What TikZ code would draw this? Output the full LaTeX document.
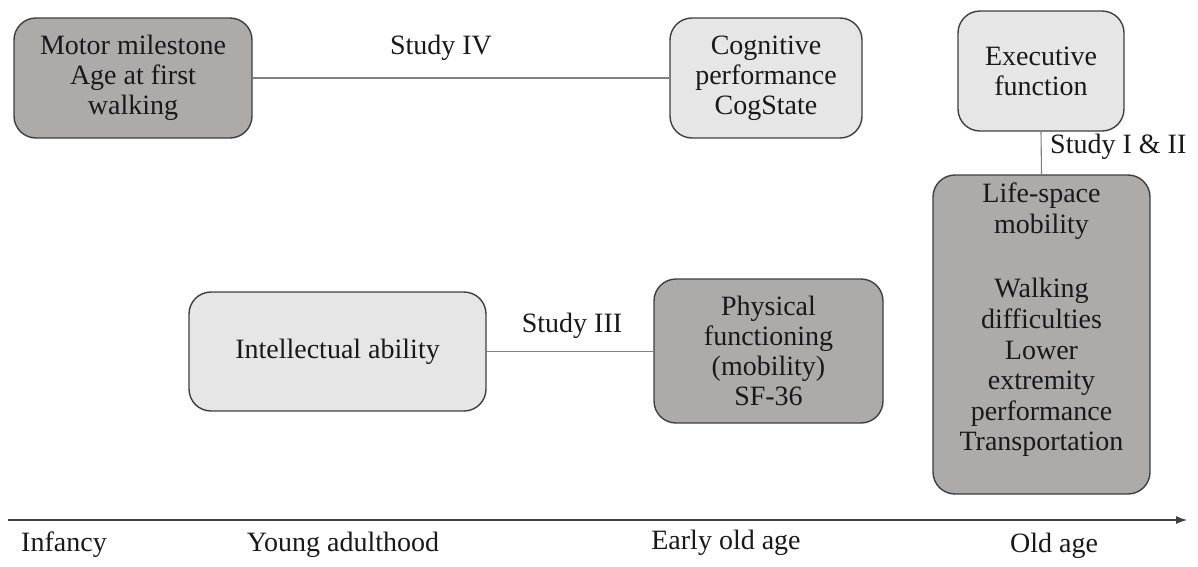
\documentclass[tikz,border=0pt]{standalone}
\usepackage{fontspec}
\setmainfont{Liberation Serif}
\usetikzlibrary{arrows.meta}
\definecolor{darkfill}{HTML}{ADAAAA}
\definecolor{lightfill}{HTML}{E6E6E6}
\definecolor{edge}{HTML}{3F3F3F}
\definecolor{conn}{HTML}{808080}
\begin{document}
\begin{tikzpicture}[x=1pt,y=-1pt,
  every node/.style={font=\fontsize{28}{30}\selectfont, text=black!90},
  box/.style={draw=edge, line width=1.4pt, rounded corners=22pt, align=center, inner sep=0pt},
  darkbox/.style={box, fill=darkfill},
  lightbox/.style={box, fill=lightfill},
  connector/.style={draw=conn, line width=1.1pt},
  lbl/.style={inner sep=0pt}
]
\useasboundingbox (0,0) rectangle (1198,566);
% boxes
\node[darkbox, minimum width=238pt, minimum height=120pt] (motor) at (133,78) {Motor milestone\\Age at first\\walking};
\node[lightbox, minimum width=192pt, minimum height=120pt] (cog) at (766,78) {Cognitive\\performance\\CogState};
\node[lightbox, minimum width=166pt, minimum height=120pt] (exec) at (1041,71) {Executive\\function};
\node[darkbox, minimum width=217pt, minimum height=319pt] (life) at (1041.5,334.5) {};
\node[inner sep=0pt, align=center, font=\fontsize{28}{30.6}\selectfont] (lifetext) at (1041.5,320) {Life-space\\mobility\\[34pt]Walking\\difficulties\\Lower\\extremity\\performance\\Transportation};
\node[lightbox, minimum width=297pt, minimum height=119pt] (intel) at (337.5,351.5) {Intellectual ability};
\node[darkbox, minimum width=229pt, minimum height=144pt] (phys) at (768.5,351) {Physical\\functioning\\(mobility)\\SF-36};
% connectors
\draw[connector] (motor.east) -- (cog.west);
\draw[connector] (intel.east) -- (phys.west |- intel.east);
\draw[connector] (exec.south) -- (life.north);
% labels
\node[lbl] (s4) at (441,48) {Study IV};
\node[lbl] (s3) at (572,326) {Study III};
\node[lbl, anchor=west] (s12) at (1050,147) {Study I \& II};
% axis
\coordinate (axs) at (8,520);
\coordinate (axe) at (1187,520);
\draw[draw=black!75, line width=1.1pt, -{Latex[length=11pt,width=8pt]}] (axs) -- (axe);
\node[lbl] (inf) at (64,545) {Infancy};
\node[lbl] (young) at (343,545) {Young adulthood};
\node[lbl] (early) at (726,543) {Early old age};
\node[lbl] (old) at (1054,546) {Old age};
\end{tikzpicture}
\end{document}
